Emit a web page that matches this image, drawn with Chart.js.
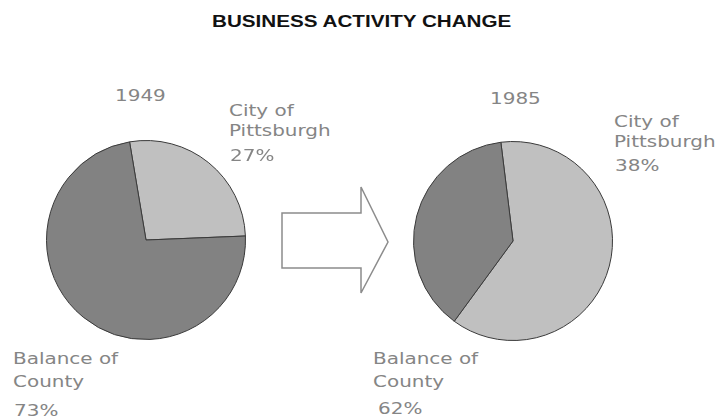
<!DOCTYPE html>
<html>
<head>
<meta charset="utf-8">
<script src="https://cdn.jsdelivr.net/npm/chart.js@4.4.1/dist/chart.umd.min.js"></script>
<style>
  body { margin: 0; background: #fff; width: 721px; height: 419px; position: relative; overflow: hidden; }
  canvas { position: absolute; }
  .title { position: absolute; left: 212px; top: 14px; font: bold 16px "Liberation Sans", Arial, sans-serif;
           line-height: 16px; color: #111; white-space: nowrap; transform: scaleX(1.29); transform-origin: left top; }
  .lbl { position: absolute; font: 15px "DejaVu Sans", sans-serif; line-height: 15px; color: #858585;
         white-space: nowrap; transform: scaleX(1.33); transform-origin: left top; }
  svg { position: absolute; left: 0; top: 0; }
</style>
</head>
<body>
<div class="title">BUSINESS ACTIVITY CHANGE</div>
<svg width="721" height="419">
  <polygon points="282,213 361,213 361,187 388,242 361,293 361,268 282,268"
           fill="#fff" stroke="#8c8c8c" stroke-width="1.5"/>
</svg>
<canvas id="pie1949" width="200" height="200" style="left:46px;top:140px"></canvas>
<canvas id="pie1985" width="200" height="200" style="left:413px;top:141px"></canvas>

<script>
const years = ['1949', '1985'];
const cityShare = [27, 38];
const countyShare = [73, 62];
// slices as drawn in the source: [light, dark]
// (the 1985 pie draws the light slice as the larger one)
const slices1949 = [27, 73];
const slices1985 = [62, 38];
const sliceColors = ['#c0c0c0', '#828282'];

function makePie(id, values, rotation) {
    new Chart(document.getElementById(id), {
        type: 'pie',
        data: {
            labels: ['light', 'dark'],
            datasets: [{
                data: values,
                backgroundColor: sliceColors,
                borderColor: '#3a3a3a',
                borderWidth: 1
            }]
        },
        options: {
            responsive: false,
            animation: false,
            rotation: rotation,
            layout: { padding: 0 },
            plugins: { legend: { display: false }, tooltip: { enabled: false } }
        }
    });
}

makePie('pie1949', slices1949, -9.5);
makePie('pie1985', slices1985, -7);

// labels: text lines with left x and baseline y
function label(text, x, baseline) {
    const d = document.createElement('div');
    d.className = 'lbl';
    d.textContent = text;
    d.style.left = x + 'px';
    d.style.top = (baseline - 12.7) + 'px';
    document.body.appendChild(d);
}

label(years[0], 115, 102);
label('City of', 229, 117);
label('Pittsburgh', 229, 137);
label(cityShare[0] + '%', 230, 162);
label('Balance of', 13, 365);
label('County', 13, 388);
label(countyShare[0] + '%', 14, 417);

label(years[1], 490, 105);
label('City of', 614, 128);
label('Pittsburgh', 614, 148);
label(cityShare[1] + '%', 615, 172);
label('Balance of', 373, 365);
label('County', 373, 388);
label(countyShare[1] + '%', 378, 415);
</script>
</body>
</html>
